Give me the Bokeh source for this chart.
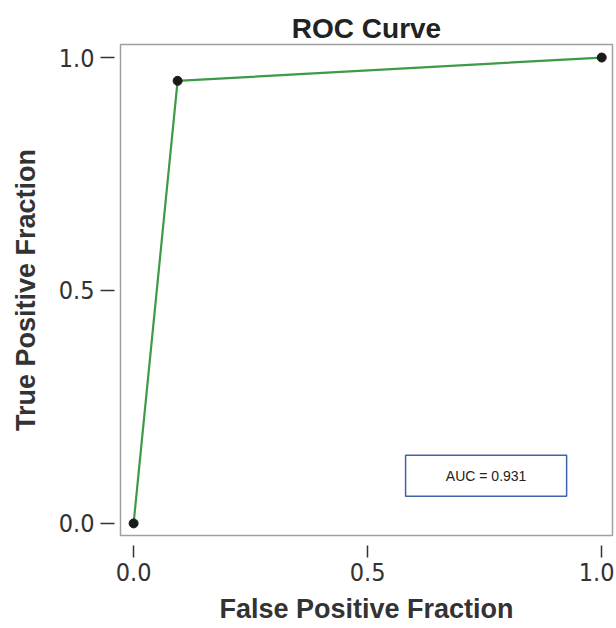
from bokeh.plotting import figure
from bokeh.models import Range1d, FixedTicker, Label, BoxAnnotation
from bokeh.embed import file_html
from bokeh.resources import INLINE

fpr = [0.0, 0.094, 1.0]
tpr = [0.0, 0.95, 1.0]
ticks = [0.0, 0.5, 1.0]
tick_labels = {0.0: "0.0", 0.5: "0.5", 1.0: "1.0"}
auc_text = "AUC = 0.931"

p = figure(width=614, height=626, output_backend="svg", toolbar_location=None,
           x_range=Range1d(-0.028, 1.023), y_range=Range1d(-0.026, 1.028),
           min_border_left=120, min_border_right=2, min_border_top=44, min_border_bottom=91)

p.title.text = "ROC Curve"
p.title.align = "center"
p.title.text_font = "Liberation Sans"
p.title.text_font_size = "28px"
p.title.text_font_style = "bold"
p.title.text_color = "#222222"
p.title.offset = 0
p.title.standoff = 2

p.grid.visible = False
p.outline_line_color = "#a0a0a0"
p.outline_line_width = 1.5
p.background_fill_color = "white"

for ax in (p.xaxis[0], p.yaxis[0]):
    ax.ticker = FixedTicker(ticks=ticks)
    ax.major_label_overrides = tick_labels
    ax.axis_line_color = None
    ax.minor_tick_line_color = None
    ax.major_tick_line_color = "#333333"
    ax.major_tick_line_width = 1.5
    ax.major_label_text_font = "DejaVu Sans Condensed"
    ax.major_label_text_font_size = "25px"
    ax.major_label_text_color = "#333333"
    ax.axis_label_text_font = "Liberation Sans"
    ax.axis_label_text_font_style = "bold"
    ax.axis_label_text_font_size = "27px"
    ax.axis_label_text_color = "#333333"

p.xaxis.major_tick_in = -10
p.xaxis.major_tick_out = 22
p.xaxis.major_label_standoff = 5
p.xaxis.axis_label = "False Positive Fraction"
p.xaxis.axis_label_standoff = 10

p.yaxis.major_tick_in = -6
p.yaxis.major_tick_out = 20
p.yaxis.major_label_standoff = 6
p.yaxis.axis_label = "True Positive Fraction"
p.yaxis.axis_label_standoff = 15

p.line(fpr, tpr, line_color="#3d9a45", line_width=2.2)
p.scatter(fpr, tpr, size=9, fill_color="#1a1a1a", line_color="#1a1a1a")

box = BoxAnnotation(left=0.581, right=0.925, bottom=0.058, top=0.146,
                    fill_color="white", fill_alpha=1.0, line_color="#3f62a8",
                    line_alpha=1.0, line_width=1.5)
p.add_layout(box)
p.add_layout(Label(x=0.753, y=0.102, text=auc_text, text_align="center", text_baseline="middle",
                   text_font="Liberation Sans", text_font_size="14px", text_color="#222222"))

open("out.html", "w").write(file_html(p, INLINE))
